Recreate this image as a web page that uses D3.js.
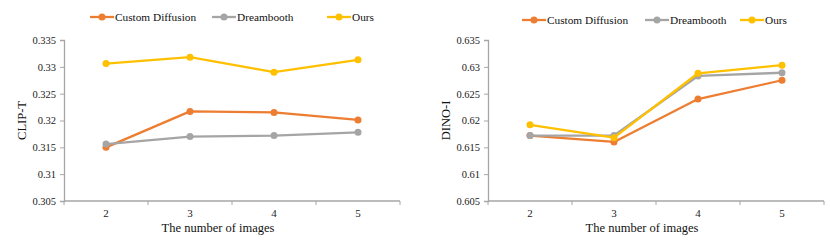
<!DOCTYPE html>
<html>
<head>
<meta charset="utf-8">
<script src="https://cdn.jsdelivr.net/npm/d3@7"></script>
<style>
  body { margin: 0; background: #fff; }
</style>
</head>
<body>
<div id="chart"></div>
<script>
// images per concept on the x axis
var categories = ['2', '3', '4', '5'];
var seriesNames = ['Custom Diffusion', 'Dreambooth', 'Ours'];
var seriesColors = ['#ED7D31', '#A5A5A5', '#FFC000'];

// left panel, CLIP-T
var clipCustom = [0.3150, 0.3217, 0.3215, 0.3201];
var clipDream  = [0.3156, 0.3170, 0.3172, 0.3178];
var clipOurs   = [0.3306, 0.3318, 0.3290, 0.3313];
var clipTicks  = [0.305, 0.31, 0.315, 0.32, 0.325, 0.33, 0.335];

// right panel, DINO-I
var dinoCustom = [0.6172, 0.6160, 0.6240, 0.6275];
var dinoDream  = [0.6172, 0.6172, 0.6283, 0.6289];
var dinoOurs   = [0.6192, 0.6168, 0.6288, 0.6303];
var dinoTicks  = [0.605, 0.61, 0.615, 0.62, 0.625, 0.63, 0.635];

var FONT = '"Liberation Serif", "Times New Roman", serif';

var svg = d3.select('#chart').append('svg')
    .attr('width', 830)
    .attr('height', 245)
    .style('display', 'block');

function drawPanel(opts) {
    var g = svg.append('g').attr('transform', 'translate(' + opts.left + ',0)');
    var top = 40, bottom = 201, width = 336;

    var x = d3.scaleBand().domain(categories).range([0, width]);
    var y = d3.scaleLinear()
        .domain([opts.ticks[0], opts.ticks[opts.ticks.length - 1]])
        .range([bottom, top]);

    // y axis
    var yAxis = g.append('g')
        .call(d3.axisLeft(y).tickValues(opts.ticks).tickSize(4).tickFormat(function(d) { return String(+d.toFixed(3)); }));
    yAxis.select('.domain').attr('stroke', '#a6a6a6').attr('stroke-width', 1.3);
    yAxis.selectAll('.tick line').attr('stroke', '#a6a6a6');
    yAxis.selectAll('.tick text')
        .attr('fill', '#222').attr('x', -8)
        .style('font-family', FONT).style('font-size', '10.5px');

    // x axis, ticks on band edges
    var xAxis = g.append('g').attr('transform', 'translate(0,' + bottom + ')');
    xAxis.append('line').attr('x1', 0).attr('x2', width)
        .attr('stroke', '#a6a6a6').attr('stroke-width', 1.3);
    xAxis.selectAll('line.tk').data(categories.concat(['end'])).enter().append('line')
        .attr('class', 'tk')
        .attr('x1', function(d, i) { return i * x.step(); })
        .attr('x2', function(d, i) { return i * x.step(); })
        .attr('y1', 0).attr('y2', 4)
        .attr('stroke', '#a6a6a6');
    xAxis.selectAll('text').data(categories).enter().append('text')
        .attr('x', function(d) { return x(d) + x.bandwidth() / 2; })
        .attr('y', 16)
        .attr('text-anchor', 'middle')
        .attr('fill', '#222')
        .style('font-family', FONT).style('font-size', '11px')
        .text(function(d) { return d; });

    g.append('text')
        .attr('x', width / 2 - 14).attr('y', 232)
        .attr('text-anchor', 'middle').attr('fill', '#111')
        .style('font-family', FONT).style('font-size', '12.5px')
        .text('The number of images');

    g.append('text')
        .attr('transform', 'translate(' + (-38) + ',' + ((top + bottom) / 2) + ') rotate(-90)')
        .attr('text-anchor', 'middle').attr('fill', '#111')
        .style('font-family', FONT).style('font-size', '12.5px')
        .text(opts.label);

    var line = d3.line()
        .x(function(d, i) { return x(categories[i]) + x.bandwidth() / 2; })
        .y(function(d) { return y(d); });

    opts.series.forEach(function(vals, s) {
        g.append('path').datum(vals)
            .attr('d', line)
            .attr('fill', 'none')
            .attr('stroke', seriesColors[s])
            .attr('stroke-width', 2.3)
            .attr('stroke-linejoin', 'round');
        g.selectAll('circle.s' + s).data(vals).enter().append('circle')
            .attr('class', 's' + s)
            .attr('cx', function(d, i) { return x(categories[i]) + x.bandwidth() / 2; })
            .attr('cy', function(d) { return y(d); })
            .attr('r', 3.5)
            .attr('fill', seriesColors[s]);
    });

    // legend
    var lg = g.append('g').attr('transform', 'translate(0,' + opts.legendY + ')');
    seriesNames.forEach(function(name, s) {
        var lx = opts.legendX[s];
        lg.append('line').attr('x1', lx).attr('x2', lx + 24)
            .attr('stroke', seriesColors[s]).attr('stroke-width', 2.3);
        lg.append('circle').attr('cx', lx + 12).attr('r', 3.5).attr('fill', seriesColors[s]);
        lg.append('text').attr('x', lx + 25).attr('y', 4)
            .attr('fill', '#111')
            .style('font-family', FONT).style('font-size', '11.3px')
            .text(name);
    });
}

drawPanel({
    left: 64, label: 'CLIP-T', ticks: clipTicks,
    series: [clipCustom, clipDream, clipOurs],
    legendY: 17, legendX: [26, 148, 263]
});
drawPanel({
    left: 488, label: 'DINO-I', ticks: dinoTicks,
    series: [dinoCustom, dinoDream, dinoOurs],
    legendY: 20, legendX: [34, 157, 252]
});
</script>
</body>
</html>
